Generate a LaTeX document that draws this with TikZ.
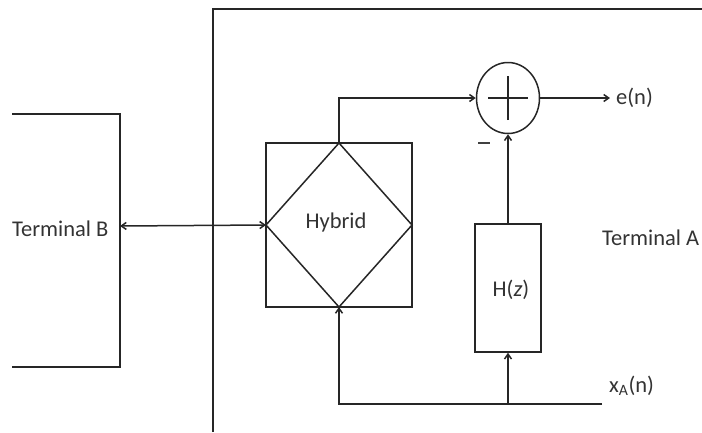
\documentclass[tikz,border=0pt]{standalone}
\usepackage{fontspec}
\setmainfont{Carlito}
\usetikzlibrary{arrows.meta,shapes.geometric}
\begin{document}
\begin{tikzpicture}[x=1pt,y=-1pt,
  ln/.style={line width=1.5pt,draw=black!85},
  arr/.style={ln,-{Straight Barb[length=5pt,width=7pt]}},
  darr/.style={ln,{Straight Barb[length=5pt,width=7pt]}-{Straight Barb[length=5pt,width=7pt]}},
  lbl/.style={font=\fontsize{22.5}{26}\selectfont,text=black!80,inner sep=0pt}]
\useasboundingbox (0,0) rectangle (702,432);
% Terminal A frame
\coordinate (fa1) at (213,432);
\coordinate (fa2) at (213,9);
\coordinate (fa3) at (702,9);
\draw[ln] (fa1) -- (fa2) -- (fa3);
% Terminal B box
\coordinate (b1) at (12,114);
\coordinate (b2) at (120,114);
\coordinate (b3) at (120,367);
\coordinate (b4) at (12,367);
\draw[ln] (b1) -- (b2) -- (b3) -- (b4);
\node[lbl,anchor=west] (tb) at (12,229) {Terminal B};
% Hybrid
\node[ln,draw,minimum width=146pt,minimum height=164pt,inner sep=0pt] (hyb) at (339,225) {};
\coordinate (dt) at (339,143);
\coordinate (dl) at (266,225);
\coordinate (dr) at (412,225);
\coordinate (db) at (339,307);
\draw[ln] (dt) -- (dr) -- (db) -- (dl) -- cycle;
\node[lbl] (hybt) at (336,222) {Hybrid};
% summing junction
\node[ln,draw,ellipse,minimum width=63pt,minimum height=71pt,inner sep=0pt] (sum) at (508,98) {};
\draw[ln] ([xshift=-20pt]sum.center) -- ([xshift=20pt]sum.center);
\draw[ln] ([yshift=-22pt]sum.center) -- ([yshift=22pt]sum.center);
\node[lbl] (minus) at (484,143) {\color{black!75}\rule{12pt}{2.4pt}};
% H(z)
\node[ln,draw,minimum width=66pt,minimum height=128pt,inner sep=0pt] (hz) at (508,288) {};
\node[lbl] (hzt) at (511,290) {H(\textit{z})};
% labels
\node[lbl,anchor=west] (en) at (616,98) {e(n)};
\node[lbl,anchor=west] (ta) at (602,238) {Terminal A};
\node[lbl,anchor=west] (xa) at (609,386) {x\textsubscript{A}(n)};
\coordinate (xin) at (602,404);
\coordinate (tap) at (hz.south |- xin);
\coordinate (tbr) at (120,226);
% connectors
\draw[arr] (dt) |- (sum.west);
\draw[arr] (sum.east) -- ([xshift=-6pt]en.west);
\draw[arr] (hz.north) -- (sum.south);
\draw[arr] (xin) -| (db);
\draw[arr] (tap) -- (hz.south);
\draw[darr] (tbr) -- (dl);
\end{tikzpicture}
\end{document}
